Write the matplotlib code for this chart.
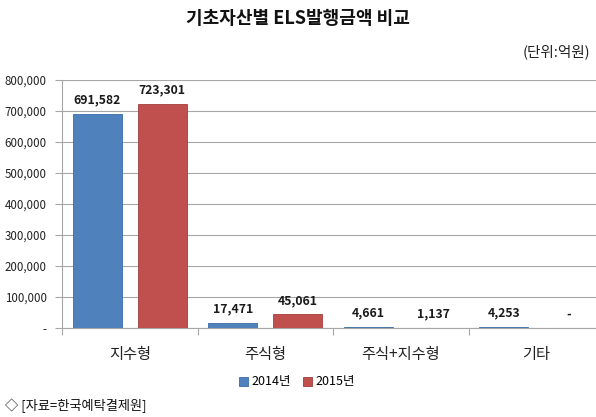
import matplotlib
matplotlib.use("Agg")
import matplotlib.pyplot as plt
from matplotlib.ticker import FixedLocator
import numpy as np

plt.rcParams['font.family'] = ['Noto Sans CJK KR', 'DejaVu Sans']

categories = ["지수형", "주식형", "주식+지수형", "기타"]
years = ["2014년", "2015년"]
val_2014 = [691582, 17471, 4661, 4253]
val_2015 = [723301, 45061, 1137, 0]
yticks = [0, 100000, 200000, 300000, 400000, 500000, 600000, 700000, 800000]

blue = "#4F81BD"
red = "#C0504D"
grid_c = "#A6A6A6"

fig = plt.figure(figsize=(5.96, 4.17), dpi=100)
ax = fig.add_axes([62 / 596, 1 - 328 / 417, 542 / 596, 248 / 417])

x = np.arange(len(categories))
w = 0.365
b1 = ax.bar(x - 0.24, val_2014, w, color=blue, edgecolor="#3A6BA5", linewidth=0.6,
            label=years[0], zorder=3)
b2 = ax.bar(x + 0.24, val_2015, w, color=red, edgecolor="#A03E3B", linewidth=0.6,
            label=years[1], zorder=3)

def fmt(v):
    return "-" if v == 0 else f"{v:,}"

for bars, vals in ((b1, val_2014), (b2, val_2015)):
    for r, v in zip(bars, vals):
        ax.annotate(fmt(v), (r.get_x() + r.get_width() / 2, v),
                    xytext=(0, 5), textcoords="offset points",
                    ha="center", va="bottom", fontsize=8.8, fontweight="bold",
                    color="#1a1a1a")

ax.set_xlim(-0.5, 3.5)
ax.set_ylim(0, 800000)
ax.set_yticks(yticks)
ax.set_yticklabels([fmt(v) for v in yticks], fontsize=8.3, color="#222222")
ax.yaxis.grid(True, color=grid_c, linewidth=0.8, zorder=0)
ax.set_axisbelow(True)

ax.set_xticks(x)
ax.set_xticklabels(categories, fontsize=11, color="#222222")
ax.tick_params(axis="x", which="major", length=0, pad=13)
ax.xaxis.set_minor_locator(FixedLocator([-0.5, 0.5, 1.5, 2.5, 3.5]))
ax.tick_params(axis="x", which="minor", length=5, color=grid_c, width=0.8)
ax.tick_params(axis="y", length=5, color=grid_c, width=0.8, pad=6)

for s in ["top", "right"]:
    ax.spines[s].set_visible(False)
ax.spines["left"].set_color(grid_c)
ax.spines["bottom"].set_color(grid_c)
ax.spines["left"].set_linewidth(0.8)
ax.spines["bottom"].set_linewidth(0.8)

fig.text(0.5, 1 - 18 / 417, "기초자산별 ELS발행금액 비교", ha="center", va="center",
         fontsize=13, fontweight="bold", color="#111111")
fig.text(590 / 596, 1 - 52 / 417, "(단위:억원)", ha="right", va="center",
         fontsize=10.5, color="#222222")

fig.legend(handles=[b1, b2], labels=years, loc="center", bbox_to_anchor=(297 / 596, 1 - 382 / 417),
           ncol=2, frameon=False, fontsize=9, handlelength=0.7, handleheight=0.7,
           handletextpad=0.3, columnspacing=1.0)

fig.text(5 / 596, 1 - 406 / 417, "◇ [자료=한국예탁결제원]", ha="left", va="center",
         fontsize=9.5, color="#111111")

fig.savefig("out.png", dpi=100)
